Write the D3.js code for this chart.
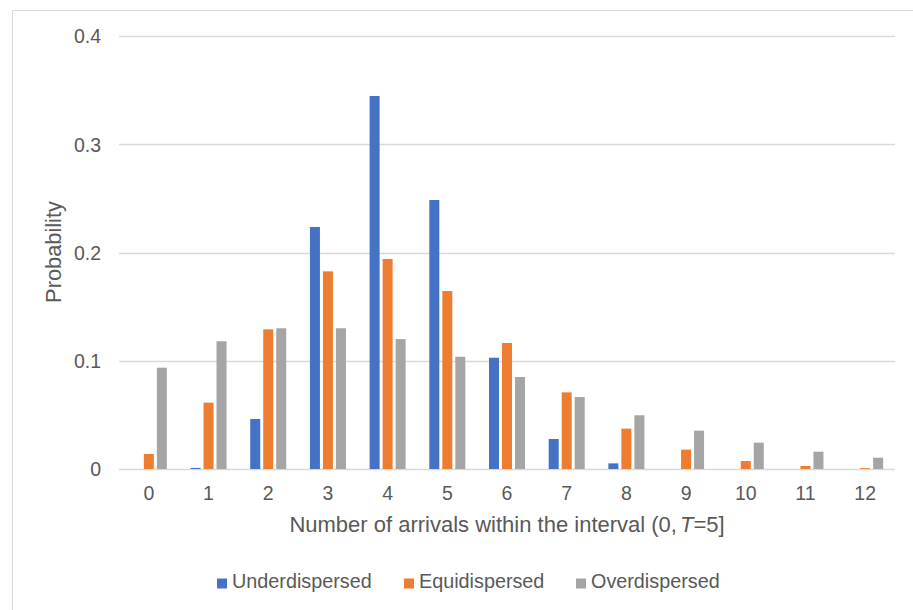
<!DOCTYPE html>
<html>
<head>
<meta charset="utf-8">
<script src="https://cdn.jsdelivr.net/npm/d3@7"></script>
<style>
  html, body { margin: 0; padding: 0; background: #ffffff; }
  svg { display: block; font-family: "Liberation Sans", Arial, sans-serif; }
</style>
</head>
<body>
<svg id="chart" width="913" height="610"></svg>
<script>
// ---- data ----
const categories = ["0","1","2","3","4","5","6","7","8","9","10","11","12"];
const seriesNames = ["Underdispersed", "Equidispersed", "Overdispersed"];
const underdispersed = [0.0000, 0.0010, 0.0462, 0.2236, 0.3446, 0.2485, 0.1028, 0.0277, 0.0052, 0.0000, 0.0000, 0.0000, 0.0000];
const equidispersed  = [0.0139, 0.0613, 0.1290, 0.1826, 0.1940, 0.1644, 0.1164, 0.0708, 0.0373, 0.0179, 0.0074, 0.0028, 0.0008];
const overdispersed  = [0.0936, 0.1180, 0.1300, 0.1300, 0.1200, 0.1037, 0.0850, 0.0665, 0.0496, 0.0354, 0.0243, 0.0160, 0.0104];
const yTicks = [0, 0.1, 0.2, 0.3, 0.4];
const colors = ["#4472C4", "#ED7D31", "#A5A5A5"];
const xTitle = "Number of arrivals within the interval (0,";
const yTitle = "Probability";

const seriesValues = [underdispersed, equidispersed, overdispersed];

// ---- layout ----
const svg = d3.select("#chart");
const plotLeft = 119, plotRight = 895, plotTop = 36, plotBottom = 469;
const textColor = "#595959";

// chart border
svg.append("rect")
  .attr("x", 12.5).attr("y", 10.5)
  .attr("width", 1000).attr("height", 1000)
  .attr("fill", "none").attr("stroke", "#D9D9D9").attr("stroke-width", 1);

const x = d3.scaleBand().domain(categories).range([plotLeft, plotRight]).paddingInner(0).paddingOuter(0);
const x1 = d3.scaleBand().domain(seriesNames).range([-18, 18]).paddingInner(0.23).paddingOuter(0);
const y = d3.scaleLinear().domain([0, 0.4]).range([plotBottom, plotTop]);

// gridlines
svg.append("g").selectAll("line").data(yTicks).join("line")
  .attr("x1", plotLeft).attr("x2", plotRight)
  .attr("y1", d => Math.round(y(d)) + 0.5).attr("y2", d => Math.round(y(d)) + 0.5)
  .attr("stroke", "#D9D9D9").attr("stroke-width", 1.3);

// y axis labels via d3 axis
const yAxis = d3.axisLeft(y).tickValues(yTicks).tickSize(0).tickPadding(0)
  .tickFormat(d => d === 0 ? "0" : d3.format(".1f")(d));
const gy = svg.append("g").attr("transform", `translate(101,0)`).call(yAxis);
gy.select(".domain").remove();
gy.selectAll("text").attr("fill", textColor).attr("font-size", "19.5px")
  .attr("font-family", "'Liberation Sans', Arial, sans-serif").attr("dy", "0.35em");

// x axis labels via d3 axis
const xAxis = d3.axisBottom(x).tickSize(0).tickPadding(0);
const gx = svg.append("g").attr("transform", `translate(0,${plotBottom})`).call(xAxis);
gx.select(".domain").remove();
gx.selectAll("text").attr("fill", textColor).attr("font-size", "19.5px")
  .attr("font-family", "'Liberation Sans', Arial, sans-serif")
  .attr("dy", null).attr("y", 31);

// bars
seriesNames.forEach((name, si) => {
  svg.append("g").selectAll("rect").data(seriesValues[si]).join("rect")
    .attr("x", (d, i) => x(categories[i]) + x.bandwidth() / 2 + x1(name))
    .attr("width", x1.bandwidth())
    .attr("y", d => y(d))
    .attr("height", d => y(0) - y(d))
    .attr("fill", colors[si]);
});

// x title
const xt = svg.append("text")
  .attr("x", 507).attr("y", 532)
  .attr("text-anchor", "middle")
  .attr("fill", textColor).attr("font-size", "22px");
xt.append("tspan").text(xTitle);
xt.append("tspan").attr("font-style", "italic").attr("dx", 3).text("T");
xt.append("tspan").text("=5]");

// y title
svg.append("text")
  .attr("transform", "translate(61,252) rotate(-90)")
  .attr("text-anchor", "middle")
  .attr("fill", textColor).attr("font-size", "21.8px")
  .text(yTitle);

// legend
const legendX = [217, 404, 576];
const lg = svg.append("g").selectAll("g").data(seriesNames).join("g")
  .attr("transform", (d, i) => `translate(${legendX[i]},0)`);
lg.append("rect").attr("x", 0).attr("y", 578.5).attr("width", 10).attr("height", 10)
  .attr("fill", (d, i) => colors[i]);
lg.append("text").attr("x", 15).attr("y", 588)
  .attr("fill", textColor).attr("font-size", "19.8px").text(d => d);
</script>
</body>
</html>
